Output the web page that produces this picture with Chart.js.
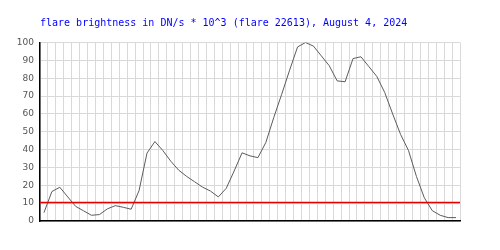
<!DOCTYPE html>
<html>
<head>
<meta charset="utf-8">
<script src="https://cdn.jsdelivr.net/npm/chart.js@4/dist/chart.umd.min.js"></script>
<style>
  html, body { margin: 0; padding: 0; background: #fff; }
  #wrap { width: 500px; height: 250px; }
</style>
</head>
<body>
<div id="wrap"><canvas id="c" width="500" height="250"></canvas></div>
<script>
const titleText = 'flare brightness in DN/s * 10^3 (flare 22613), August 4, 2024';
const samples = ['1','2','3','4','5','6','7','8','9','10','11','12','13','14','15','16','17','18','19','20',
  '21','22','23','24','25','26','27','28','29','30','31','32','33','34','35','36','37','38','39','40',
  '41','42','43','44','45','46','47','48','49','50','51','52','53'];
const brightness = [4.7, 16.5, 18.9, 13.5, 8.2, 5.7, 3.2, 3.6, 6.8, 8.6, 7.7, 6.6, 17, 38, 44.5,
  39.5, 33.5, 28.5, 25, 22, 19, 16.8, 13.5, 18.3, 28, 38.2, 36.5, 35.5, 44, 58, 71, 84.5, 97.5,
  100, 98, 92.5, 87, 78.5, 78, 91, 92, 86.5, 81, 72, 60, 48.5, 39.5, 25, 13, 5.8, 3.2, 1.9, 1.9];
const threshold = [10];
const yTicks = { min: 0, max: 100, step: 10 };

const thresholdPlugin = {
  id: 'threshold',
  afterDatasetsDraw(chart) {
    const { ctx, chartArea: a, scales: { y } } = chart;
    const py = Math.round(y.getPixelForValue(threshold[0])) - 0.5;
    ctx.save();
    ctx.strokeStyle = 'rgb(230,0,0)';
    ctx.lineWidth = 1.3;
    ctx.beginPath();
    ctx.moveTo(a.left, py);
    ctx.lineTo(a.right, py);
    ctx.stroke();
    ctx.restore();
  }
};

new Chart(document.getElementById('c'), {
  type: 'line',
  data: {
    labels: samples,
    datasets: [{
      data: brightness,
      borderColor: '#5c5c5c',
      borderWidth: 1,
      pointRadius: 0,
      tension: 0,
      fill: false
    }]
  },
  options: {
    responsive: false,
    animation: false,
    layout: { padding: { left: 0, right: 40, top: 0, bottom: 29 } },
    plugins: {
      legend: { display: false },
      tooltip: { enabled: false },
      title: {
        display: true,
        text: titleText,
        align: 'start',
        fullSize: false,
        color: '#0000ff',
        font: { family: 'DejaVu Sans Mono', size: 10, weight: 'normal' },
        padding: { top: 17, bottom: 13.5 }
      }
    },
    scales: {
      x: {
        type: 'category',
        offset: true,
        grid: { offset: true, color: '#d9d9d9', drawTicks: false },
        border: { color: '#000', width: 1.5 },
        ticks: { display: false }
      },
      y: {
        min: yTicks.min,
        max: yTicks.max,
        ticks: {
          stepSize: yTicks.step,
          color: '#555',
          font: { family: 'DejaVu Sans', size: 9 },
          padding: 6
        },
        grid: { color: '#d9d9d9', drawTicks: false },
        border: { color: '#000', width: 1.5 },
        afterFit(s) { s.width = 40; }
      }
    }
  },
  plugins: [thresholdPlugin]
});
</script>
</body>
</html>
